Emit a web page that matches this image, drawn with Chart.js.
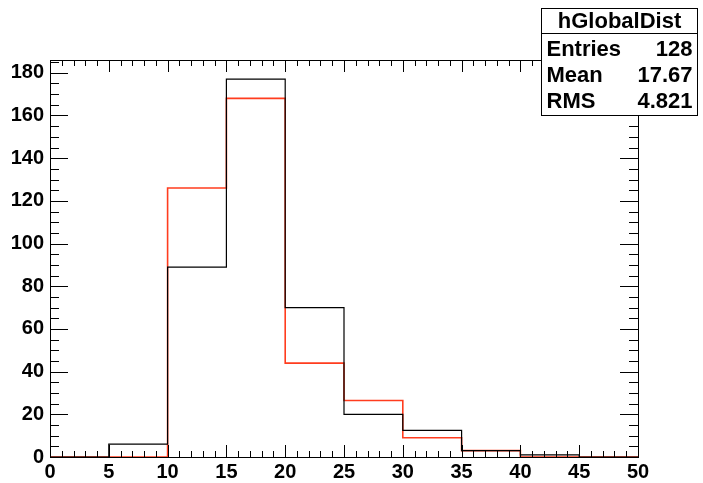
<!DOCTYPE html>
<html>
<head>
<meta charset="utf-8">
<script src="https://cdn.jsdelivr.net/npm/chart.js@4"></script>
<style>
  html, body { margin: 0; padding: 0; background: #fff; }
  #wrap { width: 703px; height: 483px; }
</style>
</head>
<body>
<div id="wrap"><canvas id="hist" width="703" height="483"></canvas></div>
<script>
// bin edges and contents
const binEdges = [0, 5, 10, 15, 20, 25, 30, 35, 40, 45, 50];
const blackCounts = [0, 6, 89, 177, 70, 20, 12.5, 3, 1, 0];
const redCounts = [0, 0, 126, 168, 44, 26.5, 9, 3, 0, 0];
const yTickValues = [0, 20, 40, 60, 80, 100, 120, 140, 160, 180];

const statsTitle = 'hGlobalDist';
const statsNames = ['Entries', 'Mean', 'RMS'];
const statsValues = ['128', '17.67', '4.821'];

const FONT = '"Liberation Sans", Arial, Helvetica, sans-serif';

// step points: one at every left edge, plus last edge
function toSteps(counts) {
    const pts = counts.map((c, i) => ({ x: binEdges[i], y: c }));
    pts.push({ x: binEdges[binEdges.length - 1], y: counts[counts.length - 1] });
    return pts;
}

// frame, inside ticks and the stats box
const rootFrame = {
    id: 'rootFrame',
    afterDatasetsDraw(chart) {
        const { ctx, chartArea: a, scales } = chart;
        const xs = scales.x, ys = scales.y;
        ctx.save();
        ctx.strokeStyle = '#000';
        ctx.lineWidth = 1;
        ctx.beginPath();
        // x ticks, every 1, major every 5
        for (let v = 0; v <= 50; v++) {
            const px = Math.round(xs.getPixelForValue(v)) + 0.5;
            const len = v % 5 === 0 ? 12 : 6;
            ctx.moveTo(px, a.bottom);
            ctx.lineTo(px, a.bottom - len);
            ctx.moveTo(px, a.top);
            ctx.lineTo(px, a.top + len);
        }
        // y ticks, every 5, major every 20
        for (let v = 0; v <= ys.max; v += 5) {
            const py = Math.round(ys.getPixelForValue(v)) + 0.5;
            const len = v % 20 === 0 ? 18 : 9;
            ctx.moveTo(a.left, py);
            ctx.lineTo(a.left + len, py);
            ctx.moveTo(a.right, py);
            ctx.lineTo(a.right - len, py);
        }
        ctx.stroke();
        ctx.strokeRect(Math.round(a.left) + 0.5, Math.round(a.top) + 0.5,
            Math.round(a.right - a.left), Math.round(a.bottom - a.top));
        ctx.restore();
    },
    afterDraw(chart) {
        const { ctx } = chart;
        const bx = 541.5, by = 8.5, bw = 156, bh = 107;
        ctx.save();
        ctx.fillStyle = '#fff';
        ctx.fillRect(bx, by, bw, bh);
        ctx.strokeStyle = '#000';
        ctx.lineWidth = 1;
        ctx.strokeRect(bx, by, bw, bh);
        ctx.beginPath();
        ctx.moveTo(bx, 33.5);
        ctx.lineTo(bx + bw, 33.5);
        ctx.stroke();
        ctx.fillStyle = '#000';
        ctx.font = 'bold 22px ' + FONT;
        ctx.textBaseline = 'middle';
        ctx.textAlign = 'center';
        ctx.fillText(statsTitle, bx + bw / 2, 22);
        const rowY = [50, 76, 102];
        statsNames.forEach((n, i) => {
            ctx.textAlign = 'left';
            ctx.fillText(n, bx + 5, rowY[i]);
            ctx.textAlign = 'right';
            ctx.fillText(statsValues[i], bx + bw - 5, rowY[i]);
        });
        ctx.restore();
    }
};

const ctx = document.getElementById('hist').getContext('2d');
const chart = new Chart(ctx, {
    type: 'line',
    data: {
        datasets: [
            {
                label: 'hGlobalDist',
                data: toSteps(blackCounts),
                borderColor: '#000000',
                borderWidth: 1.2,
                stepped: true,
                pointRadius: 0,
                fill: false
            },
            {
                label: 'reference',
                data: toSteps(redCounts),
                borderColor: 'rgb(255, 60, 30)',
                borderWidth: 1.6,
                stepped: true,
                pointRadius: 0,
                fill: false
            }
        ]
    },
    options: {
        responsive: false,
        animation: false,
        layout: { padding: { top: 60, right: 65, left: 0, bottom: 0 } },
        plugins: { legend: { display: false }, tooltip: { enabled: false } },
        scales: {
            x: {
                type: 'linear',
                min: 0,
                max: 50,
                grid: { display: false, drawTicks: false },
                border: { display: false },
                ticks: {
                    stepSize: 5,
                    padding: 3,
                    maxRotation: 0,
                    color: '#000',
                    font: { family: FONT, size: 20, weight: 'bold' }
                },
                afterFit(scale) { scale.height = 26; }
            },
            y: {
                type: 'linear',
                min: 0,
                max: 186,
                grid: { display: false, drawTicks: false },
                border: { display: false },
                ticks: {
                    autoSkip: false,
                    padding: 6,
                    color: '#000',
                    font: { family: FONT, size: 20, weight: 'bold' }
                },
                afterBuildTicks(scale) {
                    scale.ticks = yTickValues.map(v => ({ value: v }));
                },
                afterFit(scale) { scale.width = 50; }
            }
        }
    },
    plugins: [rootFrame]
});
</script>
</body>
</html>
